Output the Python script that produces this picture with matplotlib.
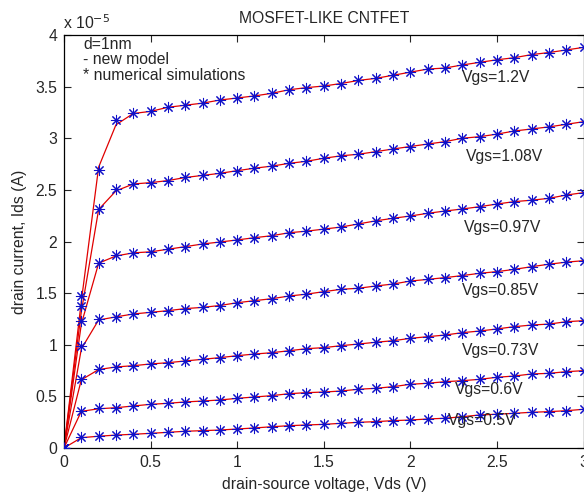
import numpy as np
import matplotlib
matplotlib.use("Agg")
from matplotlib import pyplot as plt

plt.rcParams['font.family'] = ['Liberation Sans', 'DejaVu Sans']

# drain-source voltage (V)
vds = [round(0.1 * i, 1) for i in range(31)]

# numerical simulations, Ids in units of 1e-5 A
sim_120 = [0, 1.472, 2.69, 3.18, 3.24, 3.26, 3.30, 3.32, 3.34, 3.37, 3.39, 3.41, 3.435, 3.47, 3.49,
           3.506, 3.53, 3.56, 3.58, 3.61, 3.64, 3.67, 3.68, 3.71, 3.735, 3.76, 3.78, 3.81, 3.83, 3.855, 3.88]
sim_108 = [0, 1.378, 2.31, 2.505, 2.557, 2.57, 2.59, 2.62, 2.64, 2.66, 2.686, 2.71, 2.73, 2.757, 2.777,
           2.806, 2.83, 2.845, 2.87, 2.896, 2.92, 2.944, 2.967, 3.0, 3.015, 3.04, 3.07, 3.09, 3.11, 3.135, 3.16]
sim_097 = [0, 1.233, 1.795, 1.87, 1.89, 1.90, 1.925, 1.95, 1.976, 1.995, 2.015, 2.037, 2.056, 2.085, 2.10,
           2.12, 2.14, 2.17, 2.20, 2.225, 2.247, 2.273, 2.295, 2.315, 2.337, 2.363, 2.386, 2.40, 2.418, 2.45, 2.473]
sim_085 = [0, 0.988, 1.249, 1.272, 1.298, 1.314, 1.33, 1.35, 1.362, 1.38, 1.407, 1.427, 1.446, 1.472, 1.49,
           1.514, 1.537, 1.547, 1.569, 1.588, 1.617, 1.633, 1.65, 1.67, 1.692, 1.708, 1.73, 1.756, 1.78, 1.80, 1.814]
sim_073 = [0, 0.665, 0.765, 0.787, 0.797, 0.814, 0.826, 0.843, 0.859, 0.875, 0.894, 0.91, 0.923, 0.942, 0.962,
           0.972, 0.991, 1.007, 1.024, 1.039, 1.062, 1.078, 1.094, 1.117, 1.133, 1.153, 1.175, 1.191, 1.20, 1.223, 1.233]
sim_060 = [0, 0.361, 0.384, 0.39, 0.407, 0.423, 0.433, 0.446, 0.455, 0.465, 0.481, 0.494, 0.507, 0.526, 0.536,
           0.542, 0.552, 0.569, 0.578, 0.594, 0.617, 0.627, 0.642, 0.652, 0.665, 0.685, 0.697, 0.717, 0.723, 0.739, 0.749]
sim_050 = [0, 0.109, 0.116, 0.126, 0.133, 0.142, 0.152, 0.162, 0.168, 0.174, 0.184, 0.194, 0.206, 0.216, 0.223,
           0.229, 0.239, 0.249, 0.255, 0.265, 0.271, 0.281, 0.288, 0.303, 0.32, 0.327, 0.336, 0.346, 0.352, 0.361, 0.375]

# new model: first points (Vds = 0 .. 0.3) differ a little, the rest follows the simulation
model_head_120 = [0, 1.42, 2.72, 3.13]
model_head_108 = [0, 1.32, 2.31, 2.49]
model_head_097 = [0, 1.20, 1.79, 1.86]
model_head_085 = [0, 0.96, 1.24, 1.27]
model_head_073 = [0, 0.66, 0.76, 0.785]
model_head_060 = [0, 0.355, 0.38, 0.39]
model_head_050 = [0, 0.10, 0.114, 0.125]

vgs_labels = ['Vgs=1.2V', 'Vgs=1.08V', 'Vgs=0.97V', 'Vgs=0.85V', 'Vgs=0.73V', 'Vgs=0.6V', 'Vgs=0.5V']
label_x = [2.30, 2.32, 2.31, 2.30, 2.30, 2.26, 2.215]
label_y = [3.59, 2.82, 2.14, 1.53, 0.94, 0.57, 0.27]

sims = [sim_120, sim_108, sim_097, sim_085, sim_073, sim_060, sim_050]
heads = [model_head_120, model_head_108, model_head_097, model_head_085,
         model_head_073, model_head_060, model_head_050]

txtc = '#262626'
fs = 11.3

fig = plt.figure(figsize=(5.84, 4.94), dpi=100)
ax = fig.add_axes([64 / 584, 1 - 448 / 494, 519.5 / 584, 413 / 494])

for sim, head in zip(sims, heads):
    model = head + sim[len(head):]
    ax.plot(vds, model, '-', color='#e00000', lw=0.9, zorder=2)
    # matlab-like asterisk marker (+ and x together)
    ax.plot(vds, sim, linestyle='none', marker=(8, 2, 0), color='#1010c8',
            ms=8, mew=0.75, zorder=3)

for lab, lx, ly in zip(vgs_labels, label_x, label_y):
    ax.text(lx, ly, lab, fontsize=fs, ha='left', va='center', color=txtc, zorder=4)

ax.text(0.11, 3.91, 'd=1nm', fontsize=fs, va='center', color=txtc)
ax.text(0.11, 3.76, '- new model', fontsize=fs, va='center', color=txtc)
ax.text(0.11, 3.61, '* numerical simulations', fontsize=fs, va='center', color=txtc)

ax.set_xlim(0, 3)
ax.set_ylim(0, 4)
ax.set_xticks(np.arange(0, 3.01, 0.5))
ax.set_xticklabels(['0', '0.5', '1', '1.5', '2', '2.5', '3'])
ax.set_yticks(np.arange(0, 4.01, 0.5))
ax.set_yticklabels(['0', '0.5', '1', '1.5', '2', '2.5', '3', '3.5', '4'])
ax.tick_params(direction='in', length=5, width=0.8, top=True, right=True,
               labelsize=11.3, colors=txtc, pad=5)
for sp in ax.spines.values():
    sp.set_linewidth(0.9)

ax.set_xlabel('drain-source voltage, Vds (V)', fontsize=fs, color=txtc, labelpad=5)
ax.set_ylabel('drain current, Ids (A)', fontsize=fs, color=txtc, labelpad=6)
ax.set_title('MOSFET-LIKE CNTFET', fontsize=fs, color=txtc, pad=9)
fig.text(63 / 584, 1 - 23 / 494, r'x 10$^{-5}$', fontsize=fs, color=txtc, va='center')

plt.savefig("out.png", dpi=100)
